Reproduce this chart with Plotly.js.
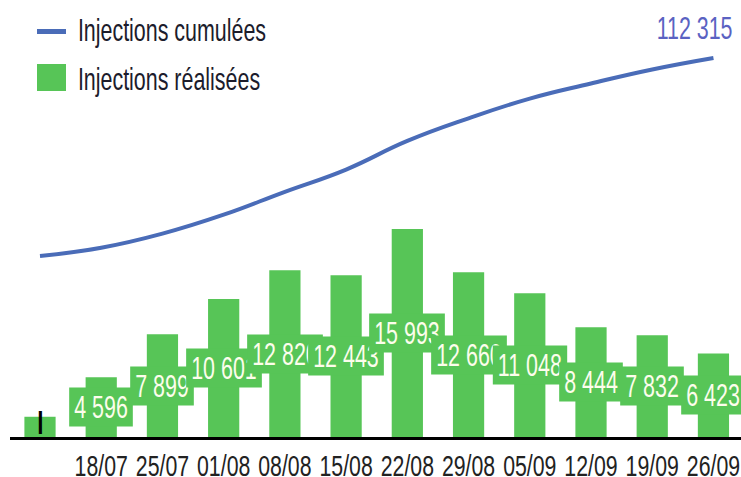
<!DOCTYPE html>
<html>
<head>
<meta charset="utf-8">
<script src="https://cdn.plot.ly/plotly-3.0.1.min.js"></script>
<style>html,body{margin:0;padding:0;background:#fff;}#chart{width:741px;height:477px;}</style>
</head>
<body>
<div id="chart"></div>
<script>
// ---- data ----
const weeks = ['11/07', '18/07', '25/07', '01/08', '08/08', '15/08', '22/08', '29/08', '05/09', '12/09', '19/09', '26/09'];
const tickLabels = ['', '18/07', '25/07', '01/08', '08/08', '15/08', '22/08', '29/08', '05/09', '12/09', '19/09', '26/09'];
const injections = [1556, 4596, 7899, 10601, 12820, 12443, 15993, 12660, 11048, 8444, 7832, 6423];
const cumulative = [1556, 6152, 14051, 24652, 37472, 49915, 65908, 78568, 89616, 98060, 105892, 112315];
const barLabels = ['|', '4 596', '7 899', '10 601', '12 820', '12 443', '15 993', '12 660', '11 048', '8 444', '7 832', '6 423'];
const totalLabel = '112 315';
const legendNames = ['Injections cumulées', 'Injections réalisées'];

// ---- styling ----
const W = 741, H = 477;
const L = 10, R = 0, T = 0, B = 40;
const pw = W - L - R, ph = H - T - B;
const FONT = '"Liberation Sans", Arial, sans-serif';
const FS = 32;          // font size before horizontal squeeze
const TFS = 30;         // tick label font size
const SQ = 0.67;        // horizontal squeeze of the reference's text
const TSQ = 0.71;       // squeeze for tick labels
const GREEN = '#57c557';
const BLUE = '#4a6cb8';
const px = x => (x - L) / pw;
const py = y => (H - B - y) / ph;

const idx = weeks.map((_, i) => i);

const traces = [
  {
    type: 'bar', x: idx, y: injections, name: legendNames[1],
    marker: {color: GREEN}, width: 0.51, hoverinfo: 'skip', showlegend: false
  },
  {
    type: 'scatter', mode: 'lines', x: idx, y: cumulative, yaxis: 'y2', name: legendNames[0],
    line: {color: BLUE, width: 4, shape: 'spline', smoothing: 1.3}, hoverinfo: 'skip', showlegend: false
  }
];

const annotations = [];
idx.forEach(i => {
  if (i === 0) {
    annotations.push({x: i, y: injections[i] / 2, xref: 'x', yref: 'y', text: barLabels[i],
      showarrow: false, yshift: 6, font: {family: FONT, size: 24, color: '#000', weight: 'bold'}, _kind: 'mark'});
  } else {
    annotations.push({x: i, y: injections[i] / 2, xref: 'x', yref: 'y', text: barLabels[i],
      showarrow: false, bgcolor: GREEN, borderpad: 1,
      font: {family: FONT, size: FS, color: '#fdfdec'}, _kind: 'box'});
  }
});
annotations.push({x: idx[idx.length - 1], y: cumulative[cumulative.length - 1], xref: 'x', yref: 'y2',
  text: totalLabel, showarrow: false, xshift: -19, yshift: 30,
  font: {family: FONT, size: FS, color: '#5a62c2'}, _kind: 'center'});
// legend texts
annotations.push({x: px(77), y: py(30), xref: 'paper', yref: 'paper', xanchor: 'left', yanchor: 'middle',
  text: legendNames[0], showarrow: false, borderpad: 0, font: {family: FONT, size: FS, color: '#1c1c2c'}, _kind: 'left'});
annotations.push({x: px(77), y: py(79), xref: 'paper', yref: 'paper', xanchor: 'left', yanchor: 'middle',
  text: legendNames[1], showarrow: false, borderpad: 0, font: {family: FONT, size: FS, color: '#1c1c2c'}, _kind: 'left'});
const kinds = annotations.map(a => a._kind);
annotations.forEach(a => delete a._kind);

const shapes = [
  {type: 'line', xref: 'paper', yref: 'paper', x0: px(37), x1: px(66), y0: py(31.5), y1: py(31.5),
    line: {color: BLUE, width: 5}},
  {type: 'rect', xref: 'paper', yref: 'paper', x0: px(37), x1: px(66), y0: py(64), y1: py(91),
    fillcolor: GREEN, line: {width: 0}}
];

const layout = {
  width: W, height: H,
  margin: {l: L, r: R, t: T, b: B, pad: 0},
  paper_bgcolor: '#fff', plot_bgcolor: '#fff',
  showlegend: false,
  xaxis: {
    range: [-0.49, 11.45], tickvals: idx, ticktext: tickLabels, tickangle: 0, ticklabeloverflow: 'allow',
    showline: true, linecolor: '#000', linewidth: 3, ticks: '', showgrid: false, zeroline: false,
    tickfont: {family: FONT, size: TFS, color: '#222'}, fixedrange: true
  },
  yaxis: {range: [0, 33600], visible: false, showgrid: false, zeroline: false, fixedrange: true},
  yaxis2: {range: [-99692, 144756], overlaying: 'y', visible: false, showgrid: false, zeroline: false, fixedrange: true},
  annotations: annotations,
  shapes: shapes
};

Plotly.newPlot('chart', traces, layout, {displayModeBar: false, staticPlot: true}).then(gd => {
  // squeeze tick labels horizontally, like the reference's narrow lettering
  gd.querySelectorAll('.xtick text').forEach(t => {
    const x = parseFloat(t.getAttribute('x')) || 0;
    const prev = t.getAttribute('transform') || '';
    t.setAttribute('transform', prev + ` translate(${x},0) scale(${TSQ},1) translate(${-x},0)`);
  });
  gd.querySelectorAll('g.annotation').forEach(g => {
    const k = kinds[parseInt(g.getAttribute('data-index'), 10)];
    if (k === 'mark') return;
    const tg = g.querySelector('.annotation-text-g');
    if (!tg) return;
    if (k === 'box') {
      const r = tg.querySelector('rect.bg');
      if (r) {
        const rx = parseFloat(r.getAttribute('x')), rw = parseFloat(r.getAttribute('width'));
        r.setAttribute('x', rx - 6);
        r.setAttribute('width', rw + 12);
      }
    }
    const bb = tg.getBBox();
    const ax = k === 'left' ? bb.x : bb.x + bb.width / 2;
    const prev = tg.getAttribute('transform') || '';
    tg.setAttribute('transform', prev + ` translate(${ax},0) scale(${SQ},1) translate(${-ax},0)`);
  });
});
</script>
</body>
</html>
